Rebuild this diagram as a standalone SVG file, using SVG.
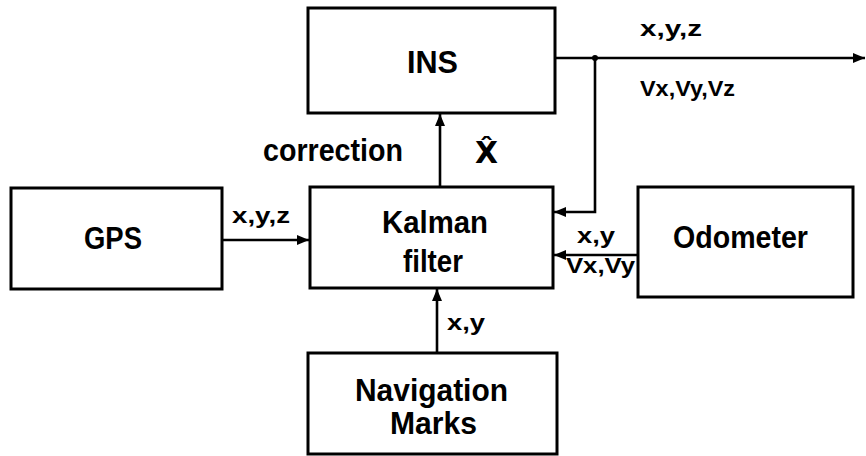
<svg xmlns="http://www.w3.org/2000/svg" width="866" height="456" viewBox="0 0 866 456">
<defs>
<marker id="ah" markerUnits="userSpaceOnUse" markerWidth="12" markerHeight="10" refX="12" refY="5" orient="auto">
<path d="M0,0 L12,5 L0,10 z" fill="#000"/>
</marker>
<style>
.box{fill:#fff;stroke:#000;stroke-width:3}
.t{font-family:"Liberation Sans",Arial,sans-serif;font-weight:bold;font-size:31px;fill:#000}
.s{font-family:"Liberation Sans",Arial,sans-serif;font-weight:bold;font-size:22px;fill:#000}
.c{fill:none;stroke:#000;stroke-width:2.6}
</style>
</defs>
<rect width="866" height="456" fill="#fff"/>
<g id="connectors">
<line class="c" x1="555" y1="58" x2="865" y2="58" marker-end="url(#ah)"/>
<circle cx="595" cy="58" r="3" fill="#000"/>
<polyline class="c" points="595,58 595,212 554,212" marker-end="url(#ah)"/>
<line class="c" x1="222" y1="240" x2="309" y2="240" marker-end="url(#ah)"/>
<line class="c" x1="638" y1="255" x2="554" y2="255" marker-end="url(#ah)"/>
<line class="c" x1="437" y1="353" x2="437" y2="289" marker-end="url(#ah)"/>
<line class="c" x1="440" y1="187" x2="440" y2="114" marker-end="url(#ah)"/>
<text class="s" x="640" y="36" textLength="62" lengthAdjust="spacingAndGlyphs">x,y,z</text>
<text class="s" x="640" y="96" textLength="95" lengthAdjust="spacingAndGlyphs">Vx,Vy,Vz</text>
<text class="s" x="232" y="223" textLength="58" lengthAdjust="spacingAndGlyphs">x,y,z</text>
<text class="s" x="577" y="243" textLength="38" lengthAdjust="spacingAndGlyphs">x,y</text>
<text class="s" x="566" y="273" textLength="69" lengthAdjust="spacingAndGlyphs">Vx,Vy</text>
<text class="s" x="447" y="330" textLength="38" lengthAdjust="spacingAndGlyphs">x,y</text>
<text class="t" x="263" y="161" font-size="27" textLength="140" lengthAdjust="spacingAndGlyphs">correction</text>
<text class="t" x="475" y="163" textLength="23" lengthAdjust="spacingAndGlyphs" style="font-family:'DejaVu Sans',sans-serif;font-size:30px">X̂</text>
</g>
<g id="ins">
<rect class="box" x="308" y="8" width="247" height="105"/>
<text class="t" x="407" y="73" textLength="51" lengthAdjust="spacingAndGlyphs">INS</text>
</g>
<g id="kalman">
<rect class="box" x="310" y="187" width="243" height="101"/>
<text class="t" x="382" y="233" textLength="106" lengthAdjust="spacingAndGlyphs">Kalman</text>
<text class="t" x="403" y="272" textLength="60" lengthAdjust="spacingAndGlyphs">filter</text>
</g>
<g id="gps">
<rect class="box" x="11" y="188" width="211" height="101"/>
<text class="t" x="84" y="249" font-size="27" textLength="58" lengthAdjust="spacingAndGlyphs">GPS</text>
</g>
<g id="odometer">
<rect class="box" x="638" y="187" width="215" height="110"/>
<text class="t" x="673" y="248" textLength="135" lengthAdjust="spacingAndGlyphs">Odometer</text>
</g>
<g id="navmarks">
<rect class="box" x="308" y="353" width="249" height="101"/>
<text class="t" x="355" y="401" font-size="29" textLength="153" lengthAdjust="spacingAndGlyphs">Navigation</text>
<text class="t" x="390" y="434" font-size="29" textLength="87" lengthAdjust="spacingAndGlyphs">Marks</text>
</g>
</svg>
